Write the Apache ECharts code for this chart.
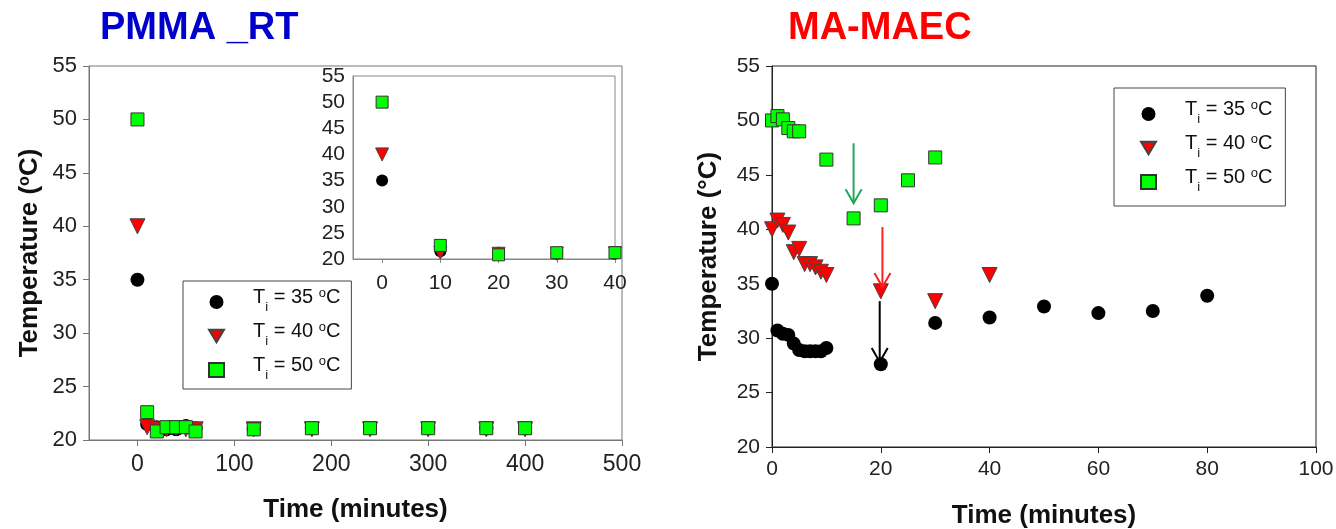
<!DOCTYPE html>
<html>
<head>
<meta charset="utf-8">
<script src="https://cdn.jsdelivr.net/npm/echarts@6/dist/echarts.min.js"></script>
<style>
  html, body { margin: 0; padding: 0; background: #fff; }
  #chart { width: 1336px; height: 529px; }
</style>
</head>
<body>
<div id="chart"></div>
<script>
"use strict";

// PMMA _RT (left panel, also used by the inset)
const pmmaTime = [0, 10, 20, 30, 40, 50, 60, 120, 180, 240, 300, 360, 400];
const pmma35 = [35, 21.5, 21.2, 21.0, 21.0, 21.3, 21.1, 21.0, 21.1, 21.1, 21.1, 21.1, 21.1];
const pmma40 = [40, 21.2, 21.0, 21.0, 21.1, 21.0, 21.0, 21.0, 21.0, 21.0, 21.0, 21.0, 21.0];
const pmma50 = [50, 22.6, 20.8, 21.2, 21.2, 21.2, 20.8, 21.0, 21.1, 21.1, 21.1, 21.1, 21.1];
const insetCount = 5; // inset shows 0..40 min

// MA-MAEC (right panel)
const maTime35 = [0, 1, 2, 3, 4, 5, 6, 7, 8, 9, 10, 20, 30, 40, 50, 60, 70, 80];
const ma35 = [35, 30.7, 30.4, 30.3, 29.5, 28.9, 28.8, 28.8, 28.8, 28.8, 29.1, 27.6, 31.4, 31.9, 32.9, 32.3, 32.5, 33.9];
const maTime40 = [0, 1, 2, 3, 4, 5, 6, 7, 8, 9, 10, 20, 30, 40];
const ma40 = [40, 40.8, 40.4, 39.7, 37.9, 38.2, 36.8, 36.8, 36.5, 36.1, 35.8, 34.3, 33.4, 35.8];
const maTime50 = [0, 1, 2, 3, 4, 5, 10, 15, 20, 25, 30];
const ma50 = [50, 50.4, 50.1, 49.3, 49.0, 49.0, 46.4, 41.0, 42.2, 44.5, 46.6];

// arrows on the right panel: x, y start, y end
const arrowX = [15, 20.3, 19.8];
const arrowFrom = [47.9, 40.2, 33.4];
const arrowTo = [42.4, 34.7, 27.8];
const arrowColors = ["#1fa85a", "#ff2020", "#000000"];

// tick labels
const pmmaTicks = [0, 100, 200, 300, 400, 500];
const insetTicks = [0, 10, 20, 30, 40];
const seriesNames = ["Ti = 35 oC", "Ti = 40 oC", "Ti = 50 oC"];

const FONT = '"Liberation Sans", Arial, sans-serif';
const DOWN_TRIANGLE = "path://M0,0 L20,0 L10,17 Z";

function zip(xs, ys) {
  return xs.map((x, i) => [x, ys[i]]);
}

const markerStyles = [
  { symbol: "circle", symbolSize: 14, itemStyle: { color: "#000", opacity: 1 } },
  { symbol: "triangle", symbolSize: 15, symbolRotate: 180,
    itemStyle: { color: "#ff0000", borderColor: "#444", borderWidth: 1, opacity: 1 } },
  { symbol: "rect", symbolSize: 13,
    itemStyle: { color: "#00ff00", borderColor: "#333", borderWidth: 1, opacity: 1 } },
];

function scatter(idx, xAxisIndex, data) {
  return {
    ...markerStyles[idx],
    name: seriesNames[idx],
    type: "scatter",
    xAxisIndex: xAxisIndex,
    yAxisIndex: xAxisIndex,
    data: data,
    silent: true,
    animation: false,
  };
}

const richLegend = {
  a: { fontSize: 20, color: "#111", fontFamily: FONT, lineHeight: 30, verticalAlign: "top", padding: [0, 0, 0, 24] },
  b: { fontSize: 20, color: "#111", fontFamily: FONT, lineHeight: 30, verticalAlign: "top" },
  s: { fontSize: 13, color: "#111", fontFamily: FONT, lineHeight: 14, verticalAlign: "top", padding: [14, 0, 0, 0] },
  p: { fontSize: 13, color: "#111", fontFamily: FONT, lineHeight: 14, verticalAlign: "top", padding: [0, 0, 14, 0] },
};

function legendFormatter(name) {
  const v = name.split(" ")[2];
  return "{a|T}{s|i}{b| = " + v + " }{p|o}{b|C}";
}

const legendData = [
  { name: seriesNames[0] },
  { name: seriesNames[1], icon: DOWN_TRIANGLE },
  { name: seriesNames[2] },
];

const richName = {
  b: { fontSize: 26, fontWeight: "bold", color: "#111", fontFamily: FONT, lineHeight: 32, verticalAlign: "top" },
  p: { fontSize: 16, fontWeight: "bold", color: "#111", fontFamily: FONT, lineHeight: 16, verticalAlign: "top", padding: [0, 0, 16, 0] },
};

function valueAxis(opts) {
  return {
    type: "value",
    splitLine: { show: false },
    axisLine: { show: true, onZero: false, lineStyle: { color: opts.color, width: 1 } },
    axisTick: { show: true, length: 6, lineStyle: { color: opts.color } },
    axisLabel: { fontSize: opts.fontSize, color: "#222", fontFamily: FONT, margin: opts.margin },
    ...opts.extra,
  };
}

const chart = echarts.init(document.getElementById("chart"));

chart.setOption({
  backgroundColor: "#fff",
  animation: false,
  graphic: [
    { type: "text", left: 100, top: 10,
      style: { text: "PMMA _RT", font: "bold 38px " + FONT, fill: "#0000cc" } },
    { type: "text", left: 788, top: 10,
      style: { text: "MA-MAEC", font: "bold 38px " + FONT, fill: "#ff0000" } },
  ],
  grid: [
    { left: 89, top: 66, width: 533, height: 374, show: true, borderColor: "#777", borderWidth: 1,
      outerBoundsMode: "none" },
    { left: 353, top: 76, width: 262, height: 183, show: true, borderColor: "#888", borderWidth: 1,
      backgroundColor: "#fff", z: 3, outerBoundsMode: "none" },
    { left: 772, top: 66, width: 544, height: 381, show: true, borderColor: "#222", borderWidth: 1,
      outerBoundsMode: "none" },
  ],
  legend: [
    {
      orient: "vertical", left: 183, top: 281,
      padding: [6, 11, 7, 25], itemWidth: 15, itemHeight: 14, itemGap: 7,
      borderColor: "#444", borderWidth: 1, backgroundColor: "#fff",
      data: legendData, formatter: legendFormatter,
      textStyle: { rich: richLegend },
      selectedMode: false, z: 4,
    },
    {
      orient: "vertical", left: 1114, top: 88,
      padding: [11, 13, 12, 26], itemWidth: 15, itemHeight: 14, itemGap: 7,
      borderColor: "#444", borderWidth: 1, backgroundColor: "#fff",
      data: legendData, formatter: legendFormatter,
      textStyle: { rich: richLegend },
      selectedMode: false,
    },
  ],
  xAxis: [
    valueAxis({ color: "#777", fontSize: 23, margin: 13, extra: {
      gridIndex: 0, min: -50, max: 500,
      name: "Time (minutes)", nameLocation: "middle", nameGap: 57,
      nameTextStyle: { fontSize: 26, fontWeight: "bold", color: "#111", fontFamily: FONT },
      axisTick: { show: true, length: 6, lineStyle: { color: "#777" }, customValues: pmmaTicks },
      axisLabel: { fontSize: 23, color: "#222", fontFamily: FONT, margin: 13, customValues: pmmaTicks },
    } }),
    valueAxis({ color: "#888", fontSize: 21, margin: 14, extra: {
      gridIndex: 1, min: -5, max: 40, z: 3,
      axisTick: { show: true, length: 4, lineStyle: { color: "#888" }, customValues: insetTicks },
      axisLabel: { fontSize: 21, color: "#222", fontFamily: FONT, margin: 14, customValues: insetTicks },
    } }),
    valueAxis({ color: "#222", fontSize: 21, margin: 12, extra: {
      gridIndex: 2, min: 0, max: 100, interval: 20,
      name: "Time (minutes)", nameLocation: "middle", nameGap: 56,
      nameTextStyle: { fontSize: 26, fontWeight: "bold", color: "#111", fontFamily: FONT },
    } }),
  ],
  yAxis: [
    valueAxis({ color: "#777", fontSize: 22, margin: 12, extra: {
      gridIndex: 0, min: 20, max: 55, interval: 5,
      name: "{b|Temperature (}{p|o}{b|C)}", nameLocation: "middle", nameGap: 40,
      nameTextStyle: { rich: richName },
    } }),
    valueAxis({ color: "#888", fontSize: 21, margin: 8, extra: {
      gridIndex: 1, min: 20, max: 55, interval: 5, z: 3,
      axisTick: { show: false },
    } }),
    valueAxis({ color: "#222", fontSize: 21, margin: 12, extra: {
      gridIndex: 2, min: 20, max: 55, interval: 5,
      name: "{b|Temperature (°C)}", nameLocation: "middle", nameGap: 44,
      nameTextStyle: { rich: richName },
    } }),
  ],
  series: [
    scatter(0, 0, zip(pmmaTime, pmma35)),
    scatter(1, 0, zip(pmmaTime, pmma40)),
    scatter(2, 0, zip(pmmaTime, pmma50)),
    { ...scatter(0, 1, zip(pmmaTime, pmma35).slice(0, insetCount)), symbolSize: 12, z: 4 },
    { ...scatter(1, 1, zip(pmmaTime, pmma40).slice(0, insetCount)), symbolSize: 13, z: 4 },
    { ...scatter(2, 1, zip(pmmaTime, pmma50).slice(0, insetCount)), symbolSize: 12, z: 4 },
    scatter(0, 2, zip(maTime35, ma35)),
    scatter(1, 2, zip(maTime40, ma40)),
    scatter(2, 2, zip(maTime50, ma50)),
    {
      type: "custom",
      xAxisIndex: 2,
      yAxisIndex: 2,
      silent: true,
      z: 5,
      encode: { x: 0, y: [1, 2] },
      data: arrowX.map((x, i) => [x, arrowFrom[i], arrowTo[i]]),
      renderItem: function (params, api) {
        const p0 = api.coord([api.value(0), api.value(1)]);
        const p1 = api.coord([api.value(0), api.value(2)]);
        const color = arrowColors[params.dataIndex];
        return {
          type: "group",
          children: [
            { type: "line", shape: { x1: p0[0], y1: p0[1], x2: p1[0], y2: p1[1] },
              style: { stroke: color, lineWidth: 2 } },
            { type: "polyline",
              shape: { points: [[p1[0] - 8, p1[1] - 14], [p1[0], p1[1]], [p1[0] + 8, p1[1] - 14]] },
              style: { stroke: color, lineWidth: 2, fill: null } },
          ],
        };
      },
    },
  ],
});
</script>
</body>
</html>
